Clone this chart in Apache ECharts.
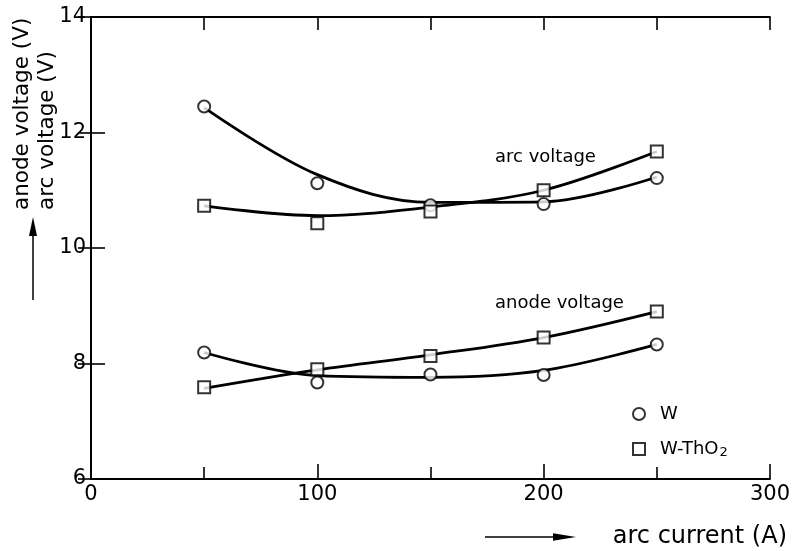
<!DOCTYPE html>
<html>
<head>
<meta charset="utf-8">
<title>Arc and anode voltage vs arc current</title>
<script src="https://cdn.jsdelivr.net/npm/echarts@6/dist/echarts.min.js"></script>
<style>
  html, body { margin: 0; padding: 0; background: #fff; }
  #chart { width: 793px; height: 551px; }
</style>
</head>
<body>
<div id="chart"></div>
<script>
// Measured points (arc current in A, voltage in V)
const current = [50, 100, 150, 200, 250];
const arcW     = [12.45, 11.12, 10.74, 10.76, 11.21];
const arcTh    = [10.73, 10.43, 10.63, 11.00, 11.67];
const anodeW   = [8.19, 7.67, 7.81, 7.80, 8.33];
const anodeTh  = [7.59, 7.90, 8.13, 8.45, 8.90];

// Hand-drawn trend curves through the measurements
const arcWCurveX    = [50, 100, 150, 200, 250];
const arcWCurveY    = [12.43, 11.27, 10.79, 10.80, 11.23];
const arcThCurveX   = [50, 100, 150, 200, 250];
const arcThCurveY   = [10.73, 10.56, 10.71, 11.0, 11.67];
const anodeWCurveX  = [50, 100, 150, 200, 250];
const anodeWCurveY  = [8.19, 7.79, 7.76, 7.88, 8.33];
const anodeThCurveX = [50, 100, 150, 200, 250];
const anodeThCurveY = [7.57, 7.89, 8.15, 8.45, 8.90];

// Axis ranges and ticks
const xMin = 0, xMax = 300, xStep = 100;
const yMin = 6, yMax = 14, yStep = 2;

const FONT = 'DejaVu Sans';
const pairs = (xs, ys) => xs.map((x, i) => [x, ys[i]]);

const markerStyle = { color: '#fff', borderColor: '#000', borderWidth: 2 };

function curve(name, xs, ys) {
  return {
    name: name, type: 'line', data: pairs(xs, ys), smooth: 0.35,
    showSymbol: false, symbol: 'none', silent: true, z: 2,
    lineStyle: { color: '#000', width: 2.8 }
  };
}
function points(name, ys, symbol) {
  return {
    name: name, type: 'scatter', data: pairs(current, ys),
    symbol: symbol, symbolSize: 12, itemStyle: markerStyle, z: 5
  };
}

const chart = echarts.init(document.getElementById('chart'), null, { renderer: 'canvas' });

chart.setOption({
  animation: false,
  backgroundColor: '#fff',
  grid: { left: 91, right: 23, top: 17, bottom: 72, containLabel: false },
  xAxis: [
    {
      type: 'value', position: 'bottom', min: xMin, max: xMax, interval: xStep,
      axisLine: { show: true, lineStyle: { color: '#000', width: 2 } },
      axisTick: { show: true, inside: true, length: 15, lineStyle: { color: '#000', width: 1.6 } },
      minorTick: { show: true, splitNumber: 2, length: 12, lineStyle: { color: '#000', width: 1.6 } },
      axisLabel: { color: '#000', fontFamily: FONT, fontSize: 21, margin: 5 },
      splitLine: { show: false }
    },
    {
      type: 'value', position: 'top', min: xMin, max: xMax, interval: 50,
      axisLine: { show: true, lineStyle: { color: '#000', width: 2 } },
      axisTick: { show: true, inside: true, length: 13, lineStyle: { color: '#000', width: 1.6 } },
      axisLabel: { show: false },
      splitLine: { show: false }
    }
  ],
  yAxis: [
    {
      type: 'value', position: 'left', min: yMin, max: yMax, interval: yStep,
      axisLine: { show: true, lineStyle: { color: '#000', width: 2 } },
      axisTick: { show: true, inside: true, length: 14, lineStyle: { color: '#000', width: 1.6 } },
      axisLabel: { color: '#000', fontFamily: FONT, fontSize: 21, margin: 5 },
      splitLine: { show: false }
    },
    {
      type: 'value', position: 'right', min: yMin, max: yMax, interval: yStep,
      axisLine: { show: true, lineStyle: { color: '#000', width: 2 } },
      axisTick: { show: true, inside: true, length: 13, lineStyle: { color: '#000', width: 1.6 } },
      axisLabel: { show: false },
      splitLine: { show: false }
    }
  ],
  legend: {
    orient: 'vertical', left: 627, top: 398,
    itemWidth: 12, itemHeight: 12, itemGap: 13,
    data: [{ name: 'W', icon: 'circle' }, { name: 'W-ThO2', icon: 'rect' }],
    itemStyle: { color: '#fff', borderColor: '#000', borderWidth: 2 },
    formatter: function (name) {
      return name === 'W-ThO2' ? 'W-ThO{sub|2}' : name;
    },
    textStyle: {
      color: '#000', fontFamily: FONT, fontSize: 18, lineHeight: 22, padding: [0, 0, 0, 10],
      rich: { sub: { fontFamily: FONT, fontSize: 13, lineHeight: 22, padding: [7, 0, 0, 1] } }
    },
    selectedMode: false
  },
  series: [
    curve('arc W fit', arcWCurveX, arcWCurveY),
    curve('arc W-ThO2 fit', arcThCurveX, arcThCurveY),
    curve('anode W fit', anodeWCurveX, anodeWCurveY),
    curve('anode W-ThO2 fit', anodeThCurveX, anodeThCurveY),
    points('W', arcW, 'circle'),
    points('W-ThO2', arcTh, 'rect'),
    points('W', anodeW, 'circle'),
    points('W-ThO2', anodeTh, 'rect')
  ],
  graphic: [
    // curve labels
    { type: 'text', left: 495, top: 148, style: { text: 'arc voltage', font: '18px ' + FONT, fill: '#000' } },
    { type: 'text', left: 495, top: 294, style: { text: 'anode voltage', font: '18px ' + FONT, fill: '#000' } },
    // y-axis title, two stacked lines read bottom-to-top
    { type: 'text', x: 22, y: 210, rotation: Math.PI / 2,
      style: { text: 'anode voltage (V)', font: '21.5px ' + FONT, fill: '#000', align: 'left', verticalAlign: 'middle' } },
    { type: 'text', x: 47, y: 210, rotation: Math.PI / 2,
      style: { text: 'arc voltage (V)', font: '21.5px ' + FONT, fill: '#000', align: 'left', verticalAlign: 'middle' } },
    // y-axis arrow
    { type: 'line', shape: { x1: 33, y1: 300, x2: 33, y2: 232 }, style: { stroke: '#000', lineWidth: 1.5 } },
    { type: 'polygon', shape: { points: [[33, 217], [29, 236], [37, 236]] }, style: { fill: '#000' } },
    // x-axis arrow and title
    { type: 'line', shape: { x1: 485, y1: 537, x2: 560, y2: 537 }, style: { stroke: '#000', lineWidth: 1.5 } },
    { type: 'polygon', shape: { points: [[576, 537], [553, 533.3], [553, 540.7]] }, style: { fill: '#000' } },
    { type: 'text', x: 787, y: 537,
      style: { text: 'arc current (A)', font: '24px ' + FONT, fill: '#000', align: 'right', verticalAlign: 'middle' } }
  ]
});
</script>
</body>
</html>
